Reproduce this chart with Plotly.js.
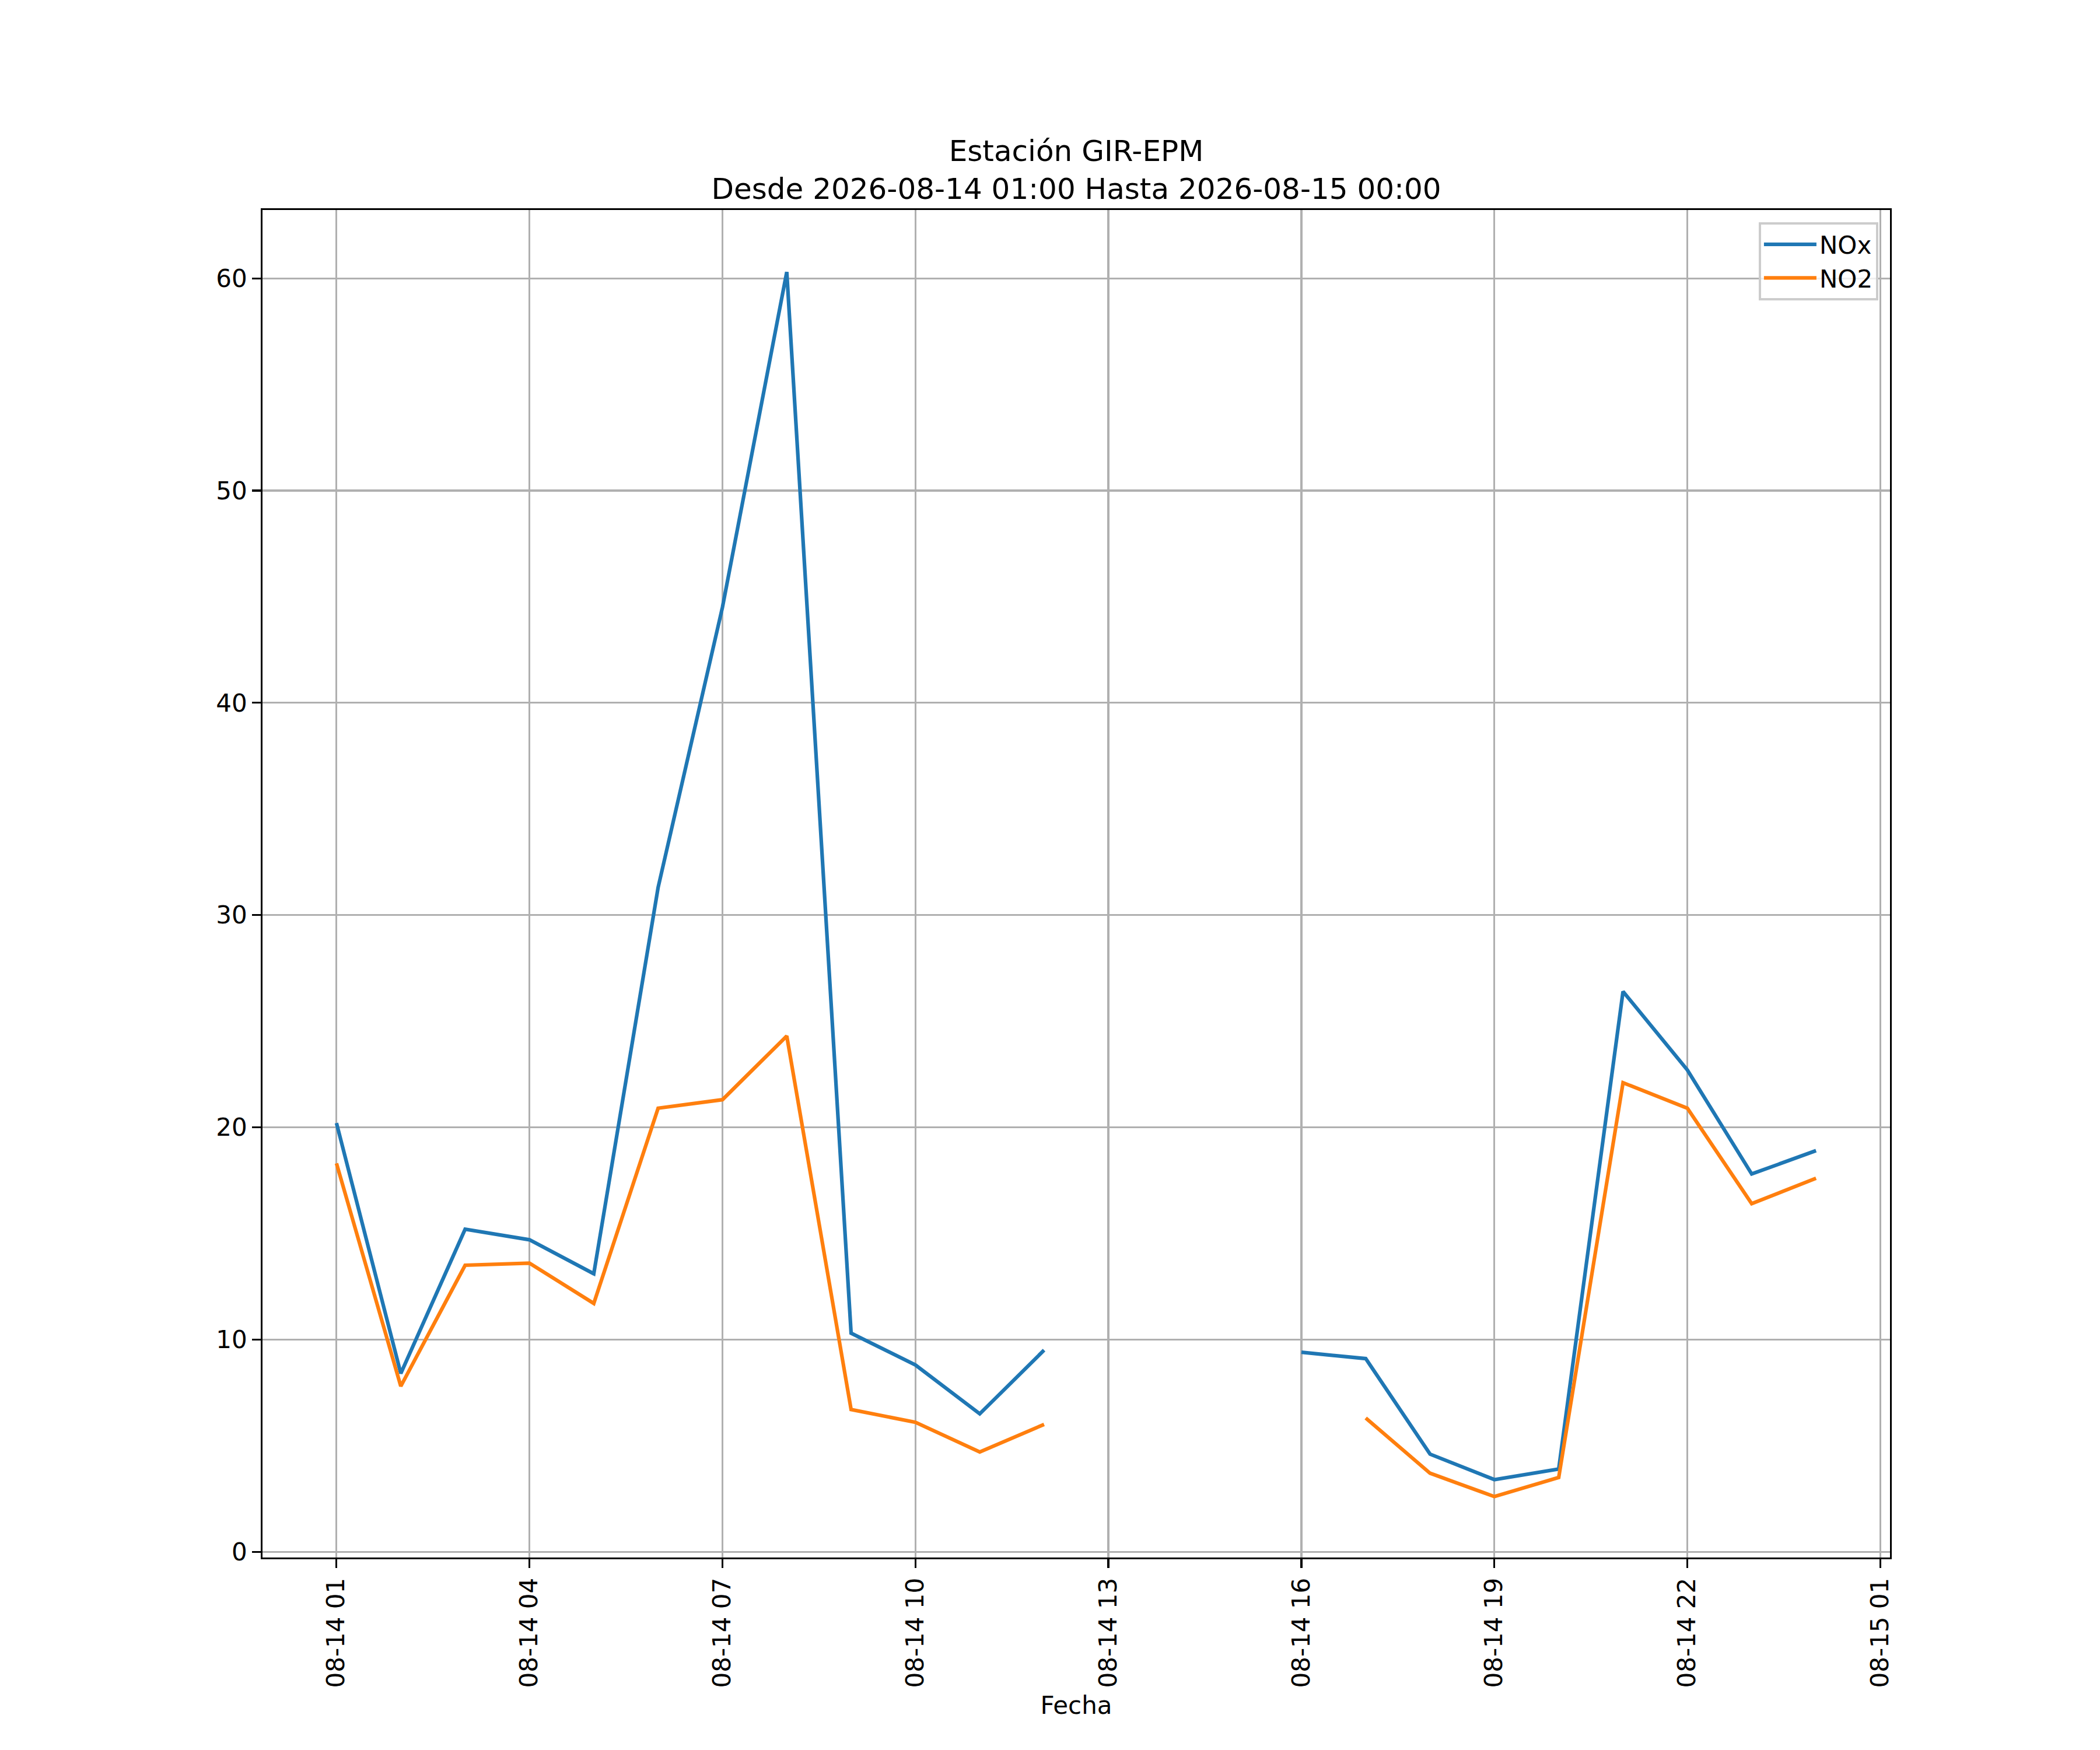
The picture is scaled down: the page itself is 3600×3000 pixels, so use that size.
<!DOCTYPE html>
<html>
<head>
<meta charset="utf-8">
<script src="https://cdn.plot.ly/plotly-3.0.1.min.js"></script>
<style>
  body { margin: 0; padding: 0; background: #ffffff; }
  #chart { width: 3600px; height: 3000px; }
</style>
</head>
<body>
<div id="chart"></div>
<script>
// hourly readings, 2026-08-14 01:00 .. 2026-08-15 00:00 (null = no data)
var hours = ['2026-08-14 01:00', '2026-08-14 02:00', '2026-08-14 03:00', '2026-08-14 04:00',
             '2026-08-14 05:00', '2026-08-14 06:00', '2026-08-14 07:00', '2026-08-14 08:00',
             '2026-08-14 09:00', '2026-08-14 10:00', '2026-08-14 11:00', '2026-08-14 12:00',
             '2026-08-14 13:00', '2026-08-14 14:00', '2026-08-14 15:00', '2026-08-14 16:00',
             '2026-08-14 17:00', '2026-08-14 18:00', '2026-08-14 19:00', '2026-08-14 20:00',
             '2026-08-14 21:00', '2026-08-14 22:00', '2026-08-14 23:00', '2026-08-15 00:00'];

var nox = [20.2, 8.4, 15.2, 14.7, 13.1, 31.3, 44.5, 60.3,
           10.3, 8.8, 6.5, 9.5, null, null, null, 9.4,
           9.1, 4.6, 3.4, 3.9, 26.4, 22.7, 17.8, 18.9];

var no2 = [18.3, 7.8, 13.5, 13.6, 11.7, 20.9, 21.3, 24.3,
           6.7, 6.1, 4.7, 6.0, null, null, null, null,
           6.3, 3.7, 2.6, 3.5, 22.1, 20.9, 16.4, 17.6];

var series_names = ['NOx', 'NO2'];
var colors = ['#1f77b4', '#ff7f0e'];

var title_lines = ['Estación GIR-EPM', 'Desde 2026-08-14 01:00 Hasta 2026-08-15 00:00'];
var x_label = 'Fecha';

var traces = [nox, no2].map(function (vals, i) {
  return {
    x: hours,
    y: vals,
    name: series_names[i],
    type: 'scatter',
    mode: 'lines',
    connectgaps: false,
    line: {color: colors[i], width: 6.25}
  };
});

var axis_common = {
  showline: true,
  mirror: true,
  linecolor: '#000000',
  linewidth: 3.3,
  showgrid: true,
  gridcolor: '#b0b0b0',
  gridwidth: 3.3,
  zeroline: false,
  ticks: 'outside',
  ticklen: 14.6,
  tickwidth: 3.3,
  tickcolor: '#000000',
  tickfont: {family: 'DejaVu Sans', size: 42, color: '#000000'},
  automargin: false
};

var layout = {
  width: 3600,
  height: 3000,
  paper_bgcolor: '#ffffff',
  plot_bgcolor: '#ffffff',
  font: {family: 'DejaVu Sans', size: 42, color: '#000000'},
  margin: {l: 450, r: 360, t: 360, b: 330, pad: 0},
  showlegend: true,
  title: {
    text: title_lines.join('<br>'),
    font: {family: 'DejaVu Sans', size: 50, color: '#000000'},
    x: 0.5,
    xref: 'paper',
    xanchor: 'center',
    y: 1,
    yref: 'paper',
    yanchor: 'bottom',
    pad: {b: 84}
  },
  xaxis: Object.assign({}, axis_common, {
    type: 'date',
    range: ['2026-08-13 23:51', '2026-08-15 01:09'],
    tick0: '2026-08-14 01:00',
    dtick: 3 * 3600 * 1000,
    tickformat: '%m-%d %H',
    tickangle: -90,
    title: {text: x_label, font: {family: 'DejaVu Sans', size: 42, color: '#000000'}, standoff: 17}
  }),
  yaxis: Object.assign({}, axis_common, {
    range: [-0.27, 63.22],
    tick0: 0,
    dtick: 10
  }),
  legend: {
    x: 0.9928,
    xanchor: 'right',
    y: 0.9909,
    yanchor: 'top',
    bgcolor: 'rgba(255,255,255,0.8)',
    bordercolor: '#cccccc',
    borderwidth: 4,
    font: {family: 'DejaVu Sans', size: 42, color: '#000000'},
    itemwidth: 90
  }
};

Plotly.newPlot('chart', traces, layout, {displaylogo: false, displayModeBar: false, staticPlot: true});
</script>
</body>
</html>
